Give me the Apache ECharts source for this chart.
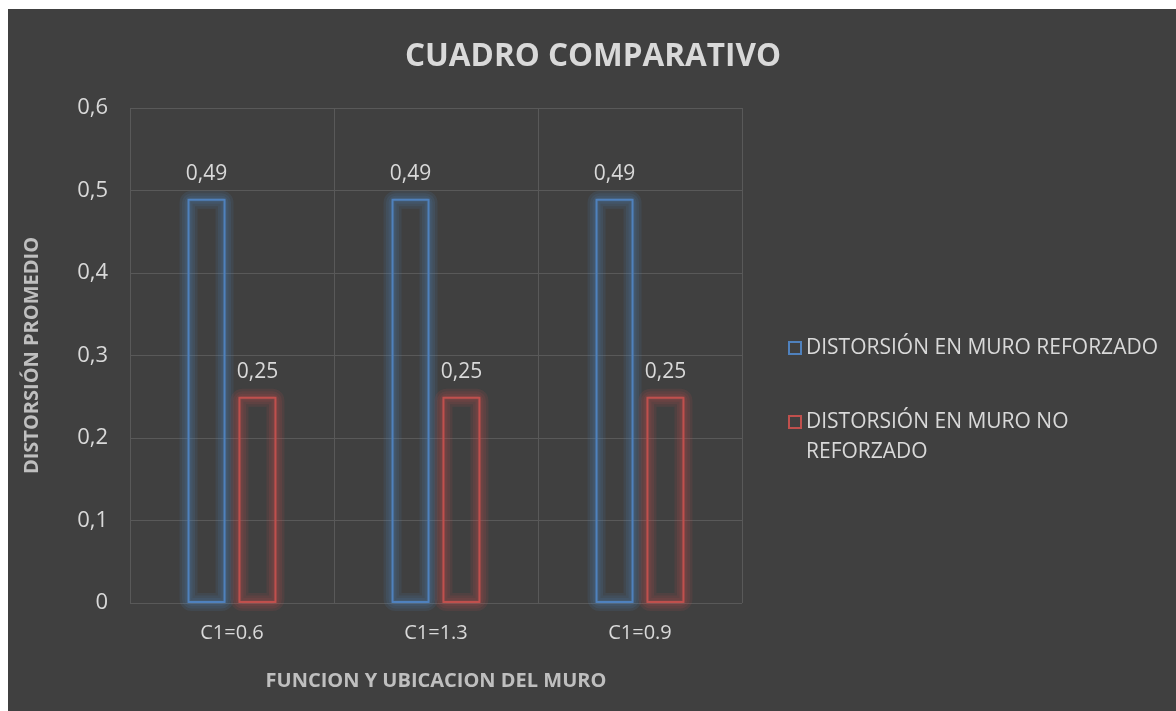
<!DOCTYPE html>
<html>
<head>
<meta charset="utf-8">
<script src="https://cdn.jsdelivr.net/npm/echarts@6/dist/echarts.min.js"></script>
<style>
html,body{margin:0;padding:0;background:#ffffff;width:1176px;height:711px;overflow:hidden;}
#c{position:absolute;left:8px;top:9px;width:1168px;height:702px;}
</style>
</head>
<body>
<div id="c"></div>
<script>
const categories = ['C1=0.6', 'C1=1.3', 'C1=0.9'];
const seriesNames = ['DISTORSIÓN EN MURO REFORZADO', 'DISTORSIÓN EN MURO NO REFORZADO'];
const legendLabels = ['DISTORSIÓN EN MURO REFORZADO', '\nDISTORSIÓN EN MURO NO\nREFORZADO'];
const reforzado = [0.49, 0.49, 0.49];
const noReforzado = [0.25, 0.25, 0.25];
const yTicks = [0, 0.1, 0.2, 0.3, 0.4, 0.5, 0.6];
const colors = ['#4f81bd', '#c0504d'];
const glowColors = ['rgba(79,129,189,0.13)', 'rgba(192,80,77,0.13)'];

const FONT = '"Open Sans", sans-serif';
const BAR_W = 38;
const BAR_GAP = 0.34;
const chart = echarts.init(document.getElementById('c'), null, {renderer: 'canvas'});

function fmt(v) { return String(v).replace('.', ','); }

function makeSeries(name, data, color) {
  return {
    name: name,
    type: 'bar',
    data: data,
    barWidth: BAR_W,
    barGap: (BAR_GAP * 100) + '%',
    z: 3,
    itemStyle: {
      color: 'none',
      borderColor: color,
      borderWidth: 2
    },
    label: {
      show: true,
      position: 'top',
      distance: 13,
      color: '#d9d9d9',
      fontFamily: FONT,
      fontSize: 21,
      formatter: p => fmt(p.value)
    },
    emphasis: {disabled: true}
  };
}

// soft glow around each bar outline, positioned through the axes
function makeGlow(data, glow, side) {
  const off = side * (BAR_W + BAR_W * BAR_GAP) / 2;
  return {
    name: 'glow' + side,
    type: 'custom',
    data: data.map((v, i) => [i, v]),
    silent: true,
    z: 2,
    clip: false,
    renderItem: (params, api) => {
      const base = api.coord([api.value(0), 0]);
      const top = api.coord([api.value(0), api.value(1)]);
      const cx = base[0] + off;
      const shape = {x: cx - BAR_W / 2 + 1, y: top[1] + 1, width: BAR_W - 2, height: base[1] - top[1] - 2, r: 3};
      return {
        type: 'group',
        children: [18, 13, 8, 4].map(lw => ({
          type: 'rect',
          shape: shape,
          style: {fill: 'none', stroke: glow, lineWidth: lw, lineJoin: 'round'}
        }))
      };
    },
    tooltip: {show: false}
  };
}

chart.setOption({
  backgroundColor: '#404040',
  animation: false,
  title: {
    text: 'CUADRO COMPARATIVO',
    left: 580,
    textAlign: 'center',
    top: 27,
    textStyle: {color: '#d9d9d9', fontFamily: FONT, fontSize: 31.5, fontWeight: 'bold'}
  },
  legend: {
    orient: 'vertical',
    left: 775,
    top: 319,
    itemWidth: 12,
    itemHeight: 12,
    itemGap: 14,
    icon: 'rect',
    data: [
      {name: seriesNames[0], itemStyle: {color: 'rgba(0,0,0,0)', borderColor: colors[0], borderWidth: 2, shadowBlur: 0}},
      {name: seriesNames[1], itemStyle: {color: 'rgba(0,0,0,0)', borderColor: colors[1], borderWidth: 2, shadowBlur: 0}}
    ],
    formatter: n => legendLabels[seriesNames.indexOf(n)],
    textStyle: {color: '#d9d9d9', fontFamily: FONT, fontSize: 21, lineHeight: 30},
    selectedMode: false
  },
  grid: {left: 122, top: 99, width: 612, height: 495, containLabel: false},
  xAxis: {
    type: 'category',
    data: categories,
    name: 'FUNCION Y UBICACION DEL MURO',
    nameLocation: 'middle',
    nameGap: 68,
    nameTextStyle: {color: '#bfbfbf', fontFamily: FONT, fontSize: 20, fontWeight: 'bold'},
    axisLine: {show: false},
    axisTick: {show: false},
    axisLabel: {color: '#d9d9d9', fontFamily: FONT, fontSize: 20, margin: 20},
    splitLine: {show: true, lineStyle: {color: '#595959', width: 1}}
  },
  yAxis: {
    type: 'value',
    min: yTicks[0],
    max: yTicks[yTicks.length - 1],
    interval: 0.1,
    name: 'DISTORSIÓN PROMEDIO',
    nameLocation: 'middle',
    nameGap: 88,
    nameRotate: 90,
    nameTextStyle: {color: '#bfbfbf', fontFamily: FONT, fontSize: 20, fontWeight: 'bold'},
    axisLine: {show: false},
    axisTick: {show: false},
    axisLabel: {color: '#d9d9d9', fontFamily: FONT, fontSize: 22, margin: 22, formatter: v => fmt(Math.round(v * 10) / 10)},
    splitLine: {show: true, lineStyle: {color: '#595959', width: 1}}
  },
  series: [
    makeSeries(seriesNames[0], reforzado, colors[0]),
    makeSeries(seriesNames[1], noReforzado, colors[1]),
    makeGlow(reforzado, glowColors[0], -1),
    makeGlow(noReforzado, glowColors[1], 1)
  ]
});
</script>
</body>
</html>
